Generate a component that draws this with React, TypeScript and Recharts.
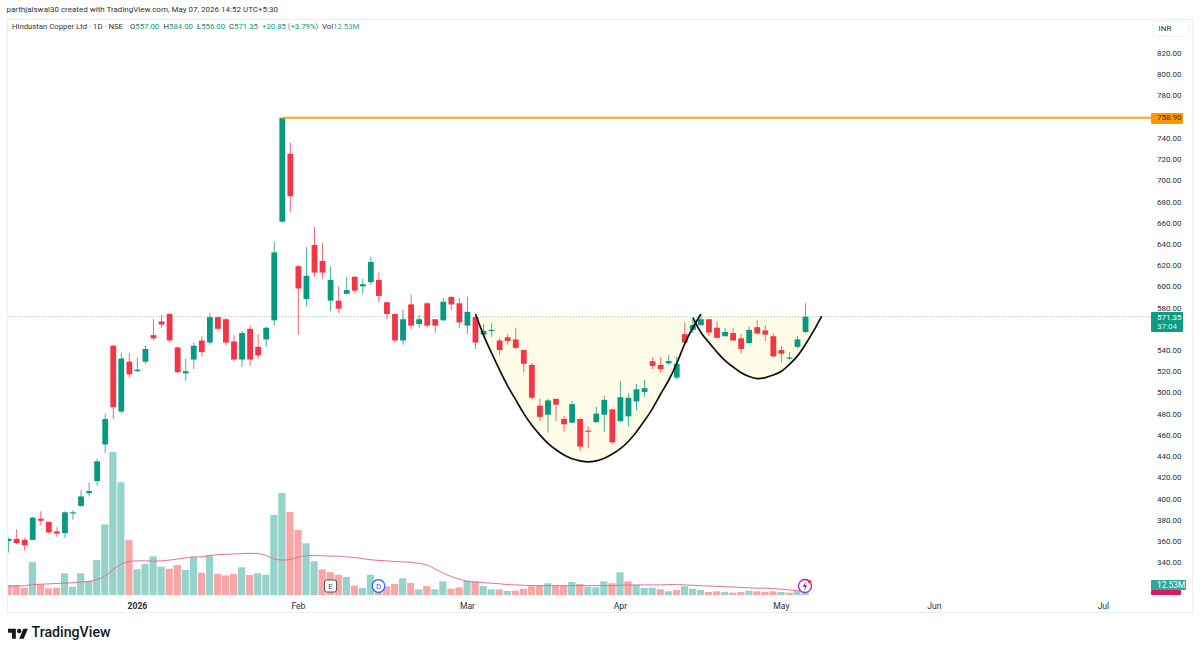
import { ComposedChart, Bar, Line, Area, XAxis, YAxis, Cell, ReferenceLine } from "recharts";

const FONT = "Roboto, sans-serif";
const UP = "#089981";
const DOWN = "#f23645";
const VOL_UP = "#95d3cb";
const VOL_DOWN = "#f9a6a6";

const opens = [360,362,361,361,381,378,369,367.5,386,393,405,416.5,451,544,482,529,520,529,554,567,574,542.5,518,531,549,547,571,569,548,531,560,543,550,568,661,725,619,588,639,624,586.5,586.5,593,609,600,604,606,585,574,549,583,564.5,584,569,568,590,584,563,571,554.5,558,549,552,550,540,526,487.5,479,494,475,471.5,475,464,472,479,484,473,477.5,491.5,500.5,529.5,526,527.5,514,555,559,563.5,569,561,553,556,551,546.5,561.5,558.5,553,540,532,543,557];
const highs = [363,371,363,383,388,378,373,388,389,408,415,437.5,480,545,537.5,537,533,544,569,573,575,543,532,547,553,575,571.5,570,554,558,563,555,562,642,758.9,735.5,620,637,656,641,619,600,609,609.5,607,628,613,585.5,574,578,592,573,585,569,589,591,589,590,571.5,564.5,565,551,555,561,540.5,528,494,494,494,478,492,475.5,468,486.5,497,484.5,510.5,499,508,512,533,533,535.5,534,566,568.5,573,569.5,567,560.5,560.5,555,562,568,563.5,555.5,544,538,553,584];
const lows = [349,357,351,361,375,367,364,363,380,392,402,412,443,475,480,514,519.5,527,549,561,547,518,511,522,534,545,558,544,529,524,525,532,543,563,660,670,554.5,581,609,607,576.5,575,592.5,594,593,601.5,585,569,547,545,560,561,561,556,567.5,578,561,555,541,552.5,552.5,535,545,540.5,519,493.5,473,462,473,463,471,445,447.5,471.5,462.5,451,472,468,483,496,522,519,526,512,546,556,563,553.5,551,553,548.5,537,546,555,548.5,533,528,530,541.5,556];
const closes = [362,358,356,382,379,368,367,387,387,402,407,435,475,486,532,517,521.5,541,551,564,549,519,520,544,538,571,560,547,531,556,531,535,561,632,758.9,685,598,610,613,613,606,579,596.5,596,602,623,591,574,549,569,563,569,563,563,585.5,583,566,576,547,558,559,540,548.5,542,527,495,477,492.5,488.5,470,489,449,463.5,480,493,453,495.5,495,503,504,525,522,529.5,527,547,563.5,569,556.5,551.5,557,549,541,559,555.5,554.5,534,536.5,533,550,571.35];

const volumes = [27.8,27.8,20.3,91.7,29.7,18.6,20.3,60.3,23,60.3,38.9,97.3,196.5,397.5,313.3,152.9,71.4,86.2,107.6,78.7,73.1,83.4,69.5,105.6,62,111.2,58.4,54.8,58.4,77,55.6,60.3,56.4,222.4,283.6,230.7,180.7,143.7,93.7,71.4,63.9,56.4,50,25.9,19.5,56.4,33.4,24.2,30.6,46.4,33.4,15.8,25,15.8,38,17.5,21.4,39.8,38,25,15.8,15.8,11.1,12,17.5,24.2,25,32.5,27,25,36.1,30.6,23,21.4,38,32.5,63,38,27.8,19.5,20.3,15.8,10.3,13.9,24.2,17.5,13.9,8.3,10.3,8.3,6.4,8.3,12,10.3,8.3,10.3,8.3,6.4,12,12.53];
// 1 = teal bar, 0 = pink bar
const volumeUp = [0,0,0,1,0,0,0,1,1,1,1,1,1,1,1,0,1,1,1,1,0,0,1,1,0,1,0,0,0,1,0,1,1,1,1,0,0,1,1,0,0,0,1,0,1,1,0,0,0,1,0,1,0,1,1,0,0,1,0,1,1,0,1,0,0,0,0,1,0,0,1,0,1,1,1,0,1,0,1,1,1,0,1,0,1,1,1,0,0,1,0,0,1,0,0,0,1,0,1,1];
const volumeMa = [25,25,26,29,30,31,32,33,34,36,38,43,53,71,86,93,95,95,94,95,97,100,103,106,106,110,112,113,114,115,116,115,110,100,97,99,105,109,110,109,108,108,106,104,101,98,96,95,93,92,91,88,83,72,61,51,44,38,36,34,33,31,29,28,27,26,26,26,26,26,26,26,26,26,26,26,27,28,28,28,28,28,29,29,28,27,26,25,24,23,22,21,20,19,19,18,16,14,12,11];

const CUP_START = 58;
const cupCurve = [574,554,537,521,506,493,480,469,460,452,446,441,437.5,435.5,434.5,435.5,438,442,447,454,463,473.5,485,498.5,511.5,527.5,546,561,574];
const HANDLE_START = 85;
const handleCurve = [570.5,556.5,547,538,530,524,518.5,515,513,514,516.5,520,526.5,534.5,545.5,558,572];

const LAST_PRICE = 571.35;
const HIGH_LINE = 758.9;
const HIGH_LINE_START = 34;
const SLOTS = 143;

const priceTicks = [340,360,380,400,420,440,460,480,500,520,540,580,600,620,640,660,680,700,720,740,780,800,820];
const timeTicks = [16,36,57,76,96,115,136];
const timeLabels = ["2026","Feb","Mar","Apr","May","Jun","Jul"];

const rows = Array.from({ length: SLOTS }, (_, i) => {
  const cup = cupCurve[i - CUP_START];
  const handle = handleCurve[i - HANDLE_START];
  return {
    idx: i,
    open: opens[i],
    close: closes[i],
    range: i < opens.length ? [lows[i], highs[i]] : undefined,
    volume: volumes[i],
    volumeMa: volumeMa[i],
    cup,
    handle,
    cupBand: cup === undefined ? undefined : [cup, LAST_PRICE],
    handleBand: handle === undefined ? undefined : [handle, LAST_PRICE],
    high: i >= HIGH_LINE_START ? HIGH_LINE : undefined,
  };
});

function Candle(props: any) {
  const { x, y, width, height, payload } = props;
  if (!payload || payload.open === undefined || !height) return null;
  const [low, high] = payload.range;
  const perUnit = height / (high - low);
  const top = y + (high - Math.max(payload.open, payload.close)) * perUnit;
  const bottom = y + (high - Math.min(payload.open, payload.close)) * perUnit;
  const color = payload.close >= payload.open ? UP : DOWN;
  const cx = x + width / 2;
  return (
    <g>
      <line x1={cx} x2={cx} y1={y} y2={y + height} stroke={color} strokeWidth={1} opacity={0.75} />
      <rect x={cx - 2.9} y={top} width={5.8} height={Math.max(bottom - top, 1.2)} fill={color} />
    </g>
  );
}

function PriceTick({ x, y, payload }: any) {
  return (
    <text x={x} y={y} dy={3} fontSize={8} fontFamily={FONT} fill="#2a2e39">
      {payload.value.toFixed(2)}
    </text>
  );
}

function TimeTick({ x, y, payload }: any) {
  const label = timeLabels[timeTicks.indexOf(payload.value)];
  return (
    <text x={x} y={y} dy={6} textAnchor="middle" fontSize={8.6} fontFamily={FONT} fill="#2a2e39" fontWeight={label === "2026" ? 700 : 400}>
      {label}
    </text>
  );
}

function Pos({ x, y, color, size = 7.75, weight = 400, children }: any) {
  return (
    <span style={{ position: "absolute", left: x, top: y, color, fontSize: size, fontWeight: weight, lineHeight: "12px", whiteSpace: "nowrap" }}>
      {children}
    </span>
  );
}

function Tag({ x, y, w, h, bg, children }: any) {
  return <div style={{ position: "absolute", left: x, top: y, width: w, height: h, background: bg, overflow: "hidden", borderRadius: 1 }}>{children}</div>;
}

export default function App() {
  return (
    <div style={{ position: "absolute", left: 0, top: 0, width: 1200, height: 652, background: "#fff", overflow: "hidden", fontFamily: FONT }}>
      <ComposedChart width={1200} height={652} data={rows} margin={{ top: 20, right: 0, bottom: 27, left: 4.6 }} barCategoryGap={0} barGap={0}>
        <XAxis xAxisId="time" dataKey="idx" type="category" ticks={timeTicks} interval={0} height={30} tickLine={false} axisLine={false} tick={<TimeTick />} />
        <XAxis xAxisId="vol" dataKey="idx" type="category" hide />
        <YAxis yAxisId="price" orientation="right" width={44.25} domain={[309.05, 851.1]} ticks={priceTicks} interval={0} tickLine={false} axisLine={false} tickSize={0} tickMargin={1.2} tick={<PriceTick />} allowDataOverflow />
        <YAxis yAxisId="volume" hide domain={[0, 1598.5]} allowDataOverflow />

        <Bar xAxisId="vol" yAxisId="volume" dataKey="volume" barSize={7.2} isAnimationActive={false}>
          {rows.map((r) => (
            <Cell key={r.idx} fill={volumeUp[r.idx] ? VOL_UP : VOL_DOWN} />
          ))}
        </Bar>
        <Line xAxisId="vol" yAxisId="volume" dataKey="volumeMa" stroke="#e4709c" strokeWidth={1} dot={false} activeDot={false} type="monotone" isAnimationActive={false} />

        <Area xAxisId="time" yAxisId="price" dataKey="cupBand" fill="#fefbe6" fillOpacity={1} stroke="none" type="natural" isAnimationActive={false} />
        <Area xAxisId="time" yAxisId="price" dataKey="handleBand" fill="#fefbe6" fillOpacity={1} stroke="none" type="natural" isAnimationActive={false} />

        <ReferenceLine xAxisId="time" yAxisId="price" y={LAST_PRICE} stroke={UP} strokeDasharray="1 2" strokeWidth={0.8} strokeOpacity={0.7} />
        <Line xAxisId="time" yAxisId="price" dataKey="high" stroke="#f5a623" strokeWidth={1.9} dot={false} activeDot={false} isAnimationActive={false} />

        <Bar xAxisId="time" yAxisId="price" dataKey="range" shape={<Candle />} isAnimationActive={false} />

        <Line xAxisId="time" yAxisId="price" dataKey="cup" stroke="#111" strokeWidth={1.7} dot={false} activeDot={false} type="natural" isAnimationActive={false} />
        <Line xAxisId="time" yAxisId="price" dataKey="handle" stroke="#111" strokeWidth={1.7} dot={false} activeDot={false} type="natural" isAnimationActive={false} />
      </ComposedChart>

      {/* frame around the pane */}
      <div style={{ position: "absolute", left: 0, top: 0, width: 6.5, height: 620, background: "#fff" }} />
      <div style={{ position: "absolute", left: 6.5, top: 18.5, width: 1186, height: 594, border: "1px solid #eeeef0", boxSizing: "border-box", pointerEvents: "none" }} />

      <Pos x={6.5} y={4} color="#333" size={8}>parthjaiswal30 created with TradingView.com, May 07, 2026 14:52 UTC+5:30</Pos>
      <Pos x={12} y={21} color="#333">Hindustan Copper Ltd · 1D · NSE</Pos>
      <Pos x={130} y={21} color="#333">O<span style={{ color: UP }}>557.00</span></Pos>
      <Pos x={163.5} y={21} color="#333">H<span style={{ color: UP }}>584.00</span></Pos>
      <Pos x={197} y={21} color="#333">L<span style={{ color: UP }}>556.00</span></Pos>
      <Pos x={229} y={21} color="#333">C<span style={{ color: UP }}>571.35</span></Pos>
      <Pos x={262} y={21} color={UP}>+20.85 (+3.79%)</Pos>
      <Pos x={322} y={21} color="#333">Vol<span style={{ color: "#2aa99c" }}>12.53M</span></Pos>

      <div style={{ position: "absolute", left: 1152, top: 20.5, width: 38, height: 16, border: "1px solid #f3f3f5", borderRadius: 3, boxSizing: "border-box" }} />
      <Pos x={1158.5} y={23} color="#333" size={8}>INR</Pos>

      <Tag x={1151} y={113} w={32} h={10.5} bg="#ff9800"><Pos x={6} y={-1} color="#2a2e39" size={8}>758.90</Pos></Tag>
      <Tag x={1151} y={311.5} w={32} h={20.5} bg="#0d9c84">
        <Pos x={6} y={0.5} color="#fff" size={8}>571.35</Pos>
        <Pos x={6} y={9.5} color="#d8f0ea" size={8}>37:04</Pos>
      </Tag>
      <Tag x={1151} y={590} w={30} h={4.5} bg="#d81b60" />
      <Tag x={1151} y={579.5} w={35} h={10.5} bg="#2aa99c"><Pos x={6} y={-1} color="#fff" size={8.4}>12.53M</Pos></Tag>

      <svg width={1200} height={652} style={{ position: "absolute", left: 0, top: 0, pointerEvents: "none" }}>
        <rect x={324.5} y={580} width={12} height={12} rx={2} fill="#fff" stroke="#555" strokeWidth={1} />
        <text x={330.5} y={589} textAnchor="middle" fontSize={8} fontFamily={FONT} fill="#444">E</text>
        <circle cx={378.5} cy={586} r={6.3} fill="#fff" stroke="#2962ff" strokeWidth={1.2} />
        <text x={378.5} y={589} textAnchor="middle" fontSize={8} fontFamily={FONT} fill="#2962ff">D</text>
        <circle cx={805} cy={586} r={6.5} fill="#fff" stroke="#9c27b0" strokeWidth={1.3} />
        <path d="M806 581.5 L802.5 586.8 L805 586.8 L804 590.5 L807.5 585.2 L805 585.2 Z" fill="#9c27b0" />
        <circle cx={809.5} cy={581.5} r={1.8} fill="#f23645" />
        <g transform="translate(8 626.5) scale(0.56)">
          <path d="M14 22H7V11H0V4h14v18zM28 22h-8l7.5-18h8L28 22z" fill="#131722" />
          <circle cx={20} cy={8} r={4} fill="#131722" />
        </g>
      </svg>
      <Pos x={31.5} y={626} color="#131722" size={14.2} weight={500}>TradingView</Pos>
    </div>
  );
}
